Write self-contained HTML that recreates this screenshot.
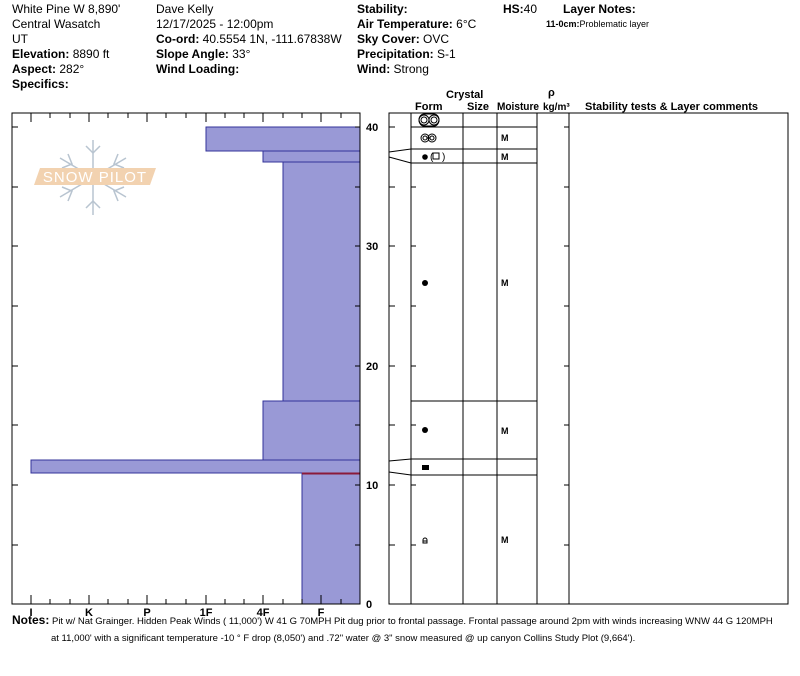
<!DOCTYPE html>
<html><head><meta charset="utf-8"><style>
body{margin:0;background:#fff;width:800px;height:676px;overflow:hidden}
svg{display:block}
text{font-family:"Liberation Sans",Arial,sans-serif;fill:#000}
.b{font-weight:bold}
</style></head><body>
<svg width="800" height="676" viewBox="0 0 800 676" xmlns="http://www.w3.org/2000/svg">
<g font-size="12">
<text x="12" y="13">White Pine W 8,890'</text>
<text x="12" y="28">Central Wasatch</text>
<text x="12" y="43">UT</text>
<text x="12" y="58"><tspan class="b">Elevation:</tspan> 8890 ft</text>
<text x="12" y="73"><tspan class="b">Aspect:</tspan> 282°</text>
<text x="12" y="88" class="b">Specifics:</text>
<text x="156" y="13">Dave Kelly</text>
<text x="156" y="28">12/17/2025 - 12:00pm</text>
<text x="156" y="43"><tspan class="b">Co-ord:</tspan> 40.5554 1N, -111.67838W</text>
<text x="156" y="58"><tspan class="b">Slope Angle:</tspan> 33°</text>
<text x="156" y="73" class="b">Wind Loading:</text>
<text x="357" y="13" class="b">Stability:</text>
<text x="357" y="28"><tspan class="b">Air Temperature:</tspan> 6°C</text>
<text x="357" y="43"><tspan class="b">Sky Cover:</tspan> OVC</text>
<text x="357" y="58"><tspan class="b">Precipitation:</tspan> S-1</text>
<text x="357" y="73"><tspan class="b">Wind:</tspan>  Strong</text>
<text x="503" y="13"><tspan class="b">HS:</tspan>40</text>
<text x="563" y="13" class="b">Layer Notes:</text>
</g>
<text x="546" y="27" font-size="9"><tspan class="b">11-0cm:</tspan>Problematic layer</text>

<!-- watermark -->
<g stroke="#b8c4d0" stroke-width="1.5" fill="none">
<line x1="93" y1="140" x2="93" y2="215"/>
<line x1="60" y1="158" x2="126" y2="197"/>
<line x1="60" y1="197" x2="126" y2="158"/>
<path d="M86 146 L93 153 L100 146 M86 208 L93 201 L100 208 M62 168 L72 164 L68 154 M124 168 L114 164 L118 154 M62 187 L72 191 L68 201 M124 187 L114 191 L118 201"/>
</g>
<polygon points="40,168 156,168 150,185 34,185" fill="#f2d2b0"/>
<text x="95" y="182" font-size="15" text-anchor="middle" style="fill:#fff;letter-spacing:1px">SNOW PILOT</text>

<!-- left chart bars -->
<g fill="#9999d6" stroke="#33339a" stroke-width="1">
<rect x="206" y="127" width="154" height="24"/>
<rect x="263" y="151" width="97" height="11"/>
<rect x="283" y="162" width="77" height="239"/>
<rect x="263" y="401" width="97" height="59"/>
<rect x="31" y="460" width="329" height="13"/>
<rect x="302" y="473" width="58" height="131"/>
</g>
<line x1="302" y1="473.5" x2="360" y2="473.5" stroke="#8b1a3a" stroke-width="2"/>
<rect x="12" y="113" width="348" height="491" fill="none" stroke="#000"/>
<g stroke="#000">
<path d="M31 113v9M50 113v5M70 113v5M89 113v9M108 113v5M128 113v5M147 113v9M166 113v5M186 113v5M206 113v9M225 113v5M244 113v5M263 113v9M283 113v5M302 113v5M321 113v9M341 113v5"/>
<path d="M31 604v-9M50 604v-5M70 604v-5M89 604v-9M108 604v-5M128 604v-5M147 604v-9M166 604v-5M186 604v-5M206 604v-9M225 604v-5M244 604v-5M263 604v-9M283 604v-5M302 604v-5M321 604v-9M341 604v-5"/>
<path d="M12 127h6M12 246h6M12 366h6M12 485h6M12 545h6M12 187h6M12 306h6M12 425h6"/>
<path d="M360 127h-5M360 187h-5M360 246h-5M360 306h-5M360 366h-5M360 425h-5M360 485h-5M360 545h-5"/>
</g>
<g font-size="11" font-weight="bold">
<text x="366" y="131">40</text><text x="366" y="250">30</text><text x="366" y="370">20</text><text x="366" y="489">10</text><text x="366" y="608">0</text>
<g text-anchor="middle"><text x="31" y="616">I</text><text x="89" y="616">K</text><text x="147" y="616">P</text><text x="206" y="616">1F</text><text x="263" y="616">4F</text><text x="321" y="616">F</text></g>
</g>

<!-- right panel -->
<g font-size="11" font-weight="bold">
<text x="446" y="98">Crystal</text>
<text x="415" y="110">Form</text><text x="467" y="110">Size</text><text x="497" y="110" textLength="42" lengthAdjust="spacingAndGlyphs">Moisture</text>
<text x="548" y="96">ρ</text><text x="543" y="110" font-size="10">kg/m³</text>
<text x="585" y="110">Stability tests &amp; Layer comments</text>
</g>
<rect x="389" y="113" width="399" height="491" fill="none" stroke="#000"/>
<g stroke="#000" fill="none">
<path d="M411 113V604M463 113V604M497 113V604M537 113V604M569 113V604"/>
<path d="M411 127H537M411 149H537M411 163H537M411 401H537M411 459H537M411 475H537"/>
<path d="M389 152L411 149M389 157L411 163M389 461L411 459M389 472L411 475"/>
<path d="M389 127h6M389 187h6M389 246h6M389 306h6M389 366h6M389 425h6M389 485h6M389 545h6"/>
<path d="M411 127h5M411 187h5M411 246h5M411 306h5M411 366h5M411 425h5M411 485h5M411 545h5"/>
<path d="M569 127h-5M569 187h-5M569 246h-5M569 306h-5M569 366h-5M569 425h-5M569 485h-5M569 545h-5"/>
<circle cx="424" cy="120" r="5"/><circle cx="424" cy="120" r="3"/><circle cx="434" cy="120" r="5"/><circle cx="434" cy="120" r="3"/>
<path d="M419 120a5 6 0 0 1 5-6h10a5 6 0 0 1 5 6a5 6 0 0 1-5 6h-10a5 6 0 0 1-5-6"/>
<circle cx="425" cy="138" r="4"/><circle cx="425" cy="138" r="2"/><circle cx="432" cy="138" r="4"/><circle cx="432" cy="138" r="2"/>
<rect x="433" y="153" width="6" height="6"/>
<path d="M423 543v-3a2 2 0 0 1 4 0v3zM423 541h4"/>
</g>
<g fill="#000">
<circle cx="425" cy="157" r="2.8"/>
<text x="430" y="160" font-size="10">(</text><text x="442" y="160" font-size="10">)</text>
<circle cx="425" cy="283" r="3"/>
<circle cx="425" cy="430" r="3"/>
<rect x="422" y="465" width="7" height="5"/>
</g>
<g font-size="9" font-weight="bold">
<text x="501" y="141">M</text><text x="501" y="160">M</text><text x="501" y="286">M</text><text x="501" y="434">M</text><text x="501" y="543">M</text>
</g>

<text x="12" y="624" font-size="12"><tspan font-weight="bold">Notes:</tspan><tspan font-size="9.5"> Pit w/ Nat Grainger. Hidden Peak Winds ( 11,000') W 41 G 70MPH  Pit dug prior to frontal passage. Frontal passage around 2pm with winds increasing WNW 44 G 120MPH</tspan></text>
<text x="51" y="641" font-size="9.5">at 11,000' with a significant temperature  -10 ° F drop (8,050') and .72" water @ 3" snow measured @ up canyon Collins Study Plot (9,664').</text>
</svg>
</body></html>
